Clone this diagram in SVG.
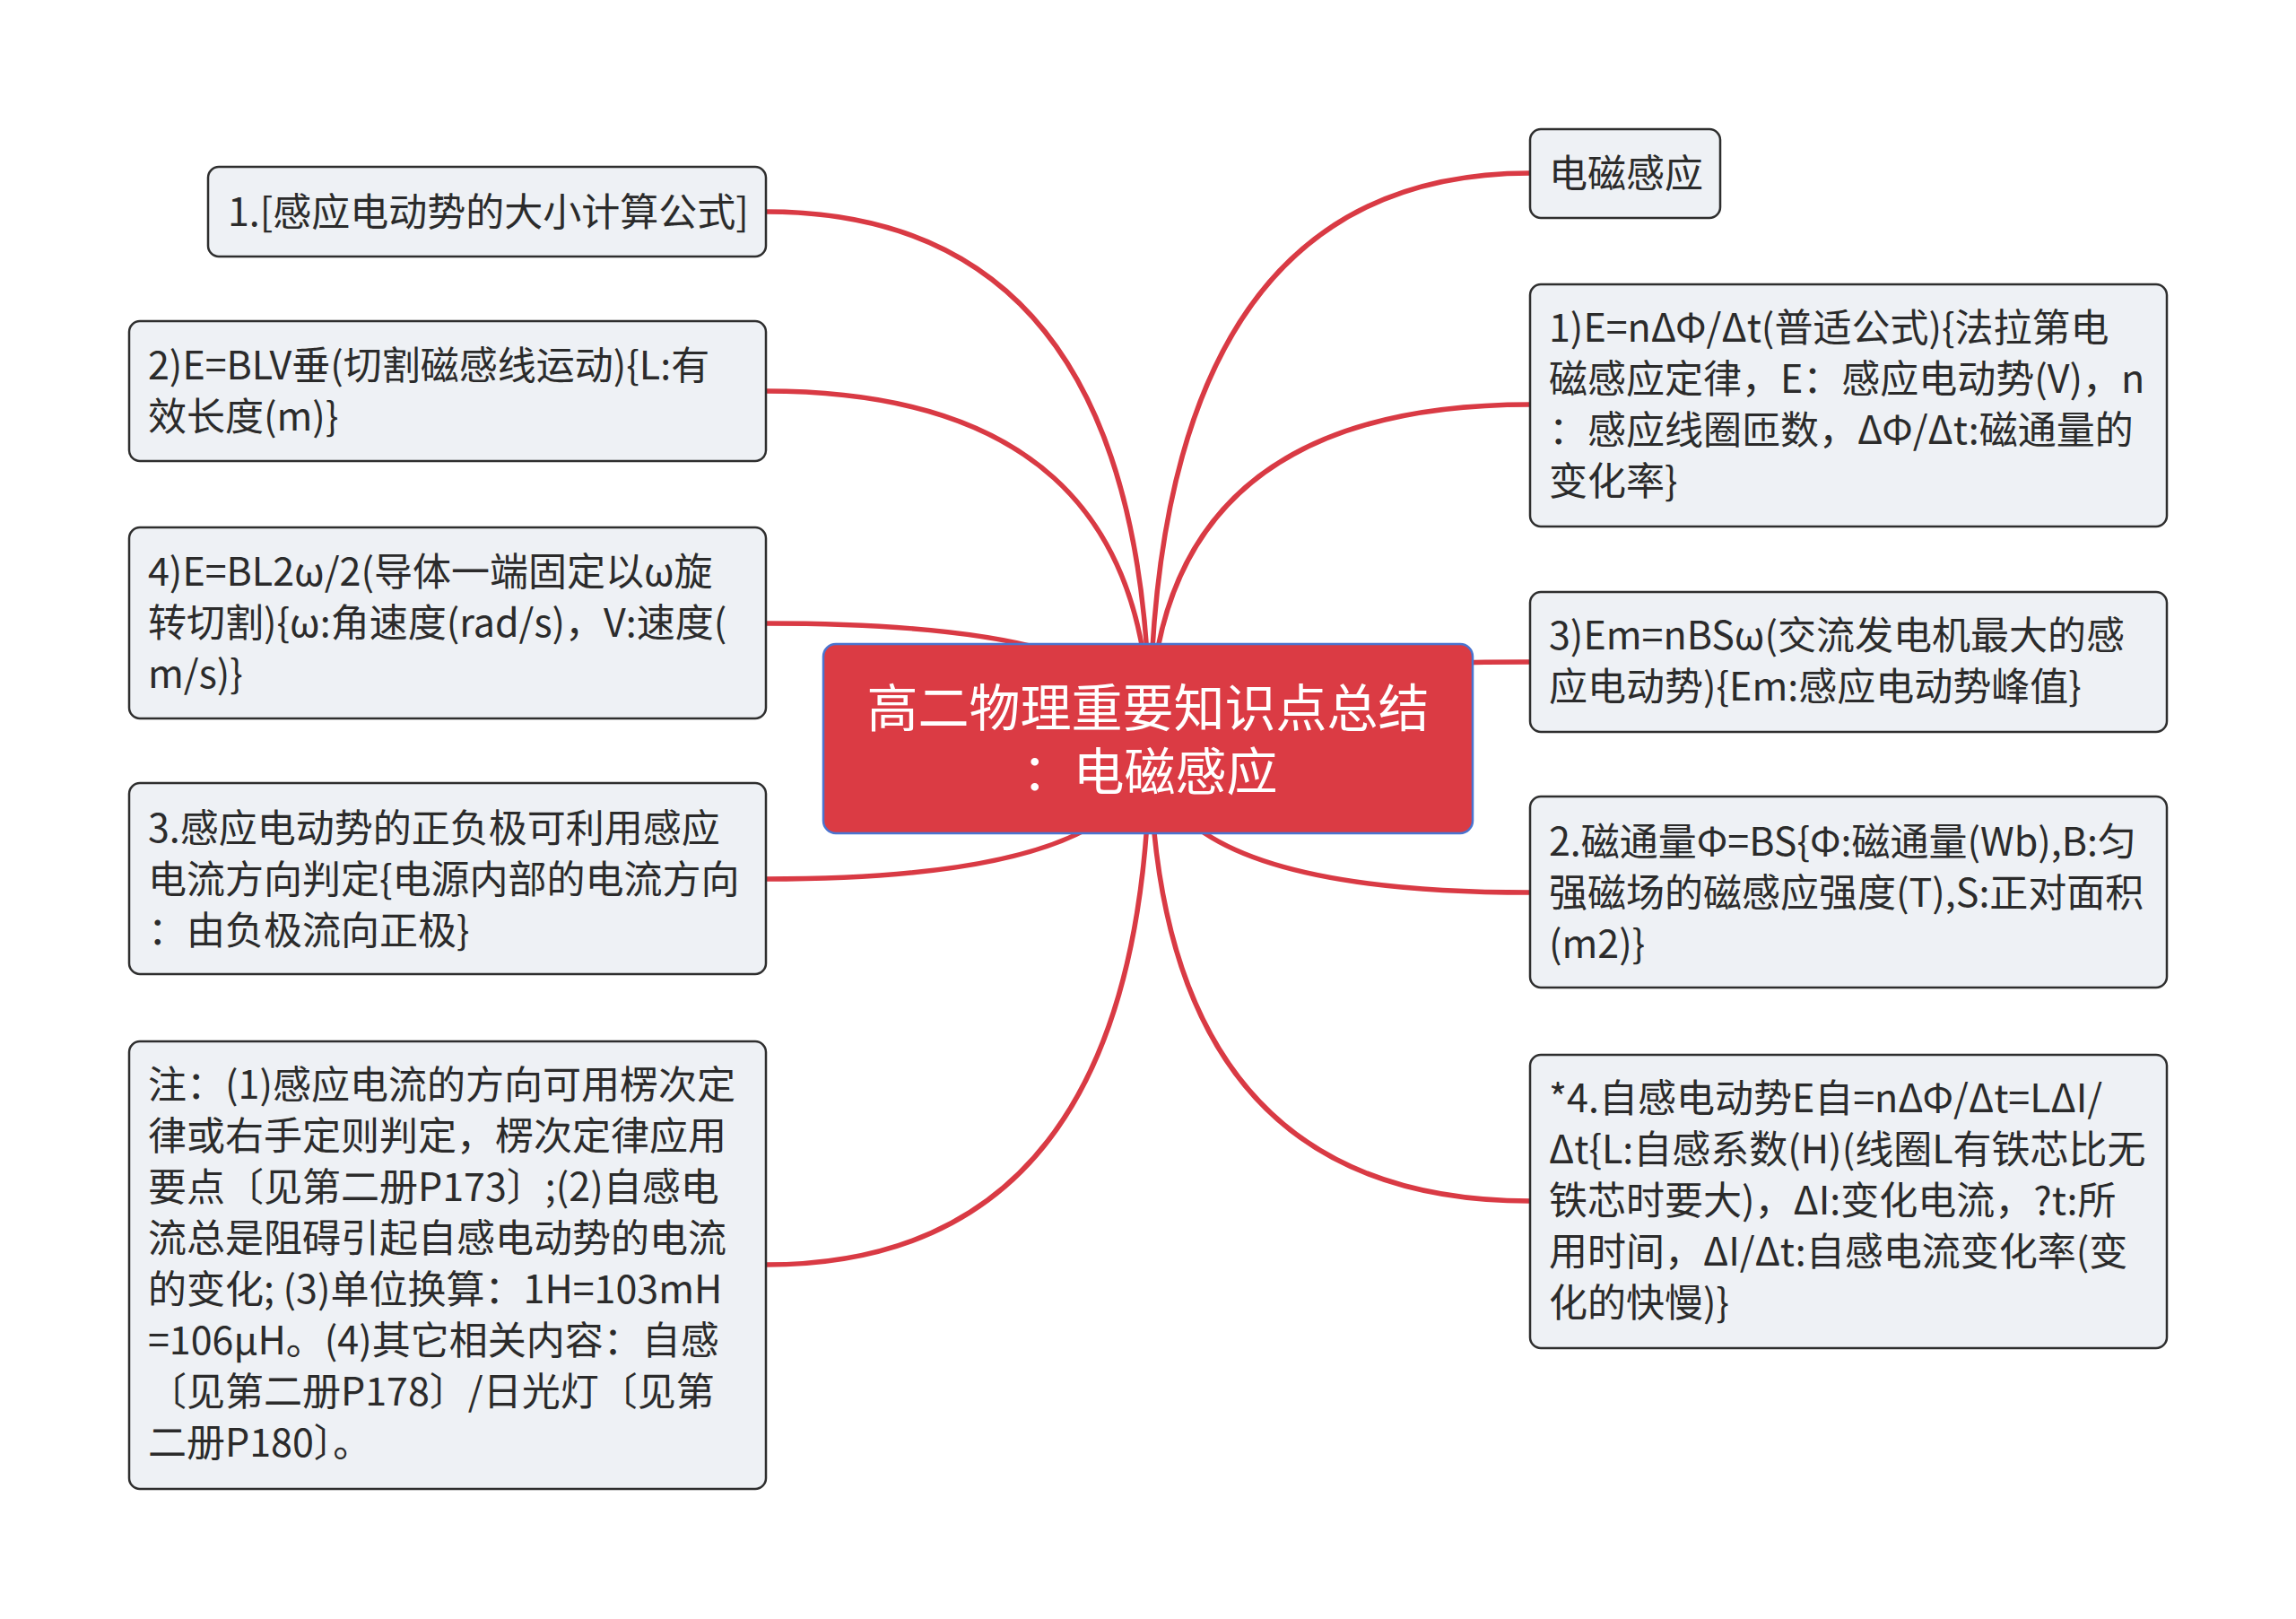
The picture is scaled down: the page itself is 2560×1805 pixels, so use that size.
<svg xmlns="http://www.w3.org/2000/svg" width="2560" height="1805" viewBox="0 0 2560 1805">
<style>
.bg{fill:#ffffff}
.link{fill:none;stroke:#d93a44;stroke-width:5.5;stroke-linecap:round}
.box{fill:#eef1f5;stroke:#2e2e2e;stroke-width:2.5}
.root{fill:#db3b44;stroke:#4a74d0;stroke-width:2.5}
.t{font-family:"Noto Sans CJK SC","Noto Sans",sans-serif;font-size:43px;fill:#2b2b2b}
.rt{font-family:"Noto Sans CJK SC","Noto Sans",sans-serif;font-size:57px;fill:#ffffff;text-anchor:middle}
</style>
<rect class="bg" x="0" y="0" width="2560" height="1805"/>
<g id="connectors">
<path class="link" d="M1282 823 Q1282 236 854 236"/>
<path class="link" d="M1282 823 Q1282 436 854 436"/>
<path class="link" d="M1282 823 Q1282 695 854 695"/>
<path class="link" d="M1282 823 Q1282 980 854 980"/>
<path class="link" d="M1282 823 Q1282 1410 854 1410"/>
<path class="link" d="M1282 823 Q1282 193 1706 193"/>
<path class="link" d="M1282 823 Q1282 451 1706 451"/>
<path class="link" d="M1282 823 Q1282 738 1706 738"/>
<path class="link" d="M1282 823 Q1282 995 1706 995"/>
<path class="link" d="M1282 823 Q1282 1339 1706 1339"/>
</g>
<g id="root">
<rect class="root" x="918" y="718" width="724" height="211" rx="14"/>
<text class="rt"><tspan x="1280" y="810">高二物理重要知识点总结</tspan><tspan x="1282" y="881">：电磁感应</tspan></text>
</g>
<g id="node-l1">
<rect class="box" x="232" y="186" width="622" height="100" rx="12"/>
<text class="t" x="254" y="252">1.[感应电动势的大小计算公式]</text>
</g>
<g id="node-l2">
<rect class="box" x="144" y="358" width="710" height="156" rx="12"/>
<text class="t"><tspan x="165" y="423">2)E=BLV垂(切割磁感线运动){L:有</tspan><tspan x="165" y="480">效长度(m)}</tspan></text>
</g>
<g id="node-l3">
<rect class="box" x="144" y="588" width="710" height="213" rx="12"/>
<text class="t"><tspan x="165" y="653">4)E=BL2ω/2(导体一端固定以ω旋</tspan><tspan x="165" y="710">转切割){ω:角速度(rad/s)，V:速度(</tspan><tspan x="165" y="767">m/s)}</tspan></text>
</g>
<g id="node-l4">
<rect class="box" x="144" y="873" width="710" height="213" rx="12"/>
<text class="t"><tspan x="165" y="939">3.感应电动势的正负极可利用感应</tspan><tspan x="165" y="996">电流方向判定{电源内部的电流方向</tspan><tspan x="165" y="1053">：由负极流向正极}</tspan></text>
</g>
<g id="node-l5">
<rect class="box" x="144" y="1161" width="710" height="499" rx="12"/>
<text class="t"><tspan x="165" y="1225">注：(1)感应电流的方向可用楞次定</tspan><tspan x="165" y="1282">律或右手定则判定，楞次定律应用</tspan><tspan x="165" y="1339">要点〔见第二册P173〕;(2)自感电</tspan><tspan x="165" y="1396">流总是阻碍引起自感电动势的电流</tspan><tspan x="165" y="1453">的变化; (3)单位换算：1H=103mH</tspan><tspan x="165" y="1510">=106μH。(4)其它相关内容：自感</tspan><tspan x="165" y="1567">〔见第二册P178〕/日光灯〔见第</tspan><tspan x="165" y="1624">二册P180〕。</tspan></text>
</g>
<g id="node-r1">
<rect class="box" x="1706" y="144" width="212" height="99" rx="12"/>
<text class="t" x="1727" y="209">电磁感应</text>
</g>
<g id="node-r2">
<rect class="box" x="1706" y="317" width="710" height="270" rx="12"/>
<text class="t"><tspan x="1727" y="381">1)E=nΔΦ/Δt(普适公式){法拉第电</tspan><tspan x="1727" y="438">磁感应定律，E：感应电动势(V)，n</tspan><tspan x="1727" y="495">：感应线圈匝数，ΔΦ/Δt:磁通量的</tspan><tspan x="1727" y="552">变化率}</tspan></text>
</g>
<g id="node-r3">
<rect class="box" x="1706" y="660" width="710" height="156" rx="12"/>
<text class="t"><tspan x="1727" y="724">3)Em=nBSω(交流发电机最大的感</tspan><tspan x="1727" y="781">应电动势){Em:感应电动势峰值}</tspan></text>
</g>
<g id="node-r4">
<rect class="box" x="1706" y="888" width="710" height="213" rx="12"/>
<text class="t"><tspan x="1727" y="954">2.磁通量Φ=BS{Φ:磁通量(Wb),B:匀</tspan><tspan x="1727" y="1011">强磁场的磁感应强度(T),S:正对面积</tspan><tspan x="1727" y="1068">(m2)}</tspan></text>
</g>
<g id="node-r5">
<rect class="box" x="1706" y="1176" width="710" height="327" rx="12"/>
<text class="t"><tspan x="1727" y="1240">*4.自感电动势E自=nΔΦ/Δt=LΔI/</tspan><tspan x="1727" y="1297">Δt{L:自感系数(H)(线圈L有铁芯比无</tspan><tspan x="1727" y="1354">铁芯时要大)，ΔI:变化电流，?t:所</tspan><tspan x="1727" y="1411">用时间，ΔI/Δt:自感电流变化率(变</tspan><tspan x="1727" y="1468">化的快慢)}</tspan></text>
</g>
</svg>
